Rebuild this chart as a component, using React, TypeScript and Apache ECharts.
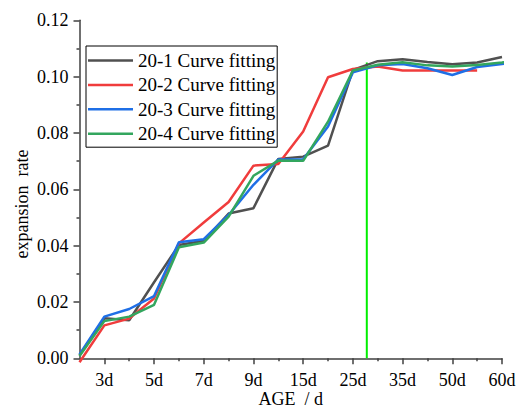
import React, { useEffect, useRef } from "react";
import * as echarts from "echarts";

// x positions are evenly spaced steps along the age axis (0..18)
const tickLabels = ["3d", "5d", "7d", "9d", "15d", "25d", "35d", "50d", "60d"];
const majorTickPos = [1, 3, 5, 7, 9, 11, 13, 15, 17];
const minorTickPos = [2, 4, 6, 8, 10, 12, 14, 16];

const s1Values = [0.001, 0.0142, 0.0135, 0.027, 0.0402, 0.0417, 0.0514, 0.0533, 0.0708, 0.0716, 0.0755, 0.1024, 0.1055, 0.1062, 0.1052, 0.1044, 0.105, 0.107];
const s2Values = [-0.0014, 0.0117, 0.0141, 0.0212, 0.0408, 0.0482, 0.0555, 0.0684, 0.069, 0.0805, 0.0998, 0.1027, 0.1036, 0.1022, 0.1022, 0.1022, 0.1022];
const s3Values = [0.0014, 0.0148, 0.0175, 0.0221, 0.0412, 0.0423, 0.0509, 0.0616, 0.0706, 0.0707, 0.0823, 0.1015, 0.104, 0.1045, 0.103, 0.1006, 0.1034, 0.1045, 0.105];
const s4Values = [0.0008, 0.0132, 0.0148, 0.019, 0.0394, 0.0411, 0.0503, 0.0648, 0.0702, 0.0701, 0.084, 0.1022, 0.1042, 0.1051, 0.104, 0.1036, 0.1041, 0.105, 0.1067];
const seriesNames = ["20-1 Curve fitting", "20-2 Curve fitting", "20-3 Curve fitting", "20-4 Curve fitting"];
const seriesColors = ["#505050", "#f03c3c", "#1f6fe6", "#33a65e"];
const markerX = 11.56;
const markerTop = 0.105;

const FONT = "'Liberation Serif', 'Times New Roman', serif";

export default function App() {
  const ref = useRef<HTMLDivElement>(null);
  useEffect(() => {
    if (!ref.current) return;
    const chart = echarts.init(ref.current, undefined, { renderer: "svg" });
    const all = [s1Values, s2Values, s3Values, s4Values];
    const axisColor = "#404040";
    const series: any[] = all.map((vals, k) => ({
      name: seriesNames[k],
      type: "line",
      data: vals.map((v, i) => [i, v]),
      symbol: "none",
      clip: false,
      xAxisIndex: 0,
      lineStyle: { color: seriesColors[k], width: 2.5 },
      itemStyle: { color: seriesColors[k] },
      z: 3 + k,
    }));
    series.push({
      name: "marker",
      type: "line",
      data: [[markerX, 0], [markerX, markerTop]],
      symbol: "none",
      lineStyle: { color: "#00ee00", width: 2 },
      z: 2,
    });
    chart.setOption({
      animation: false,
      backgroundColor: "#ffffff",
      grid: { left: 79.5, right: 15, top: 20.3, bottom: 50.7, containLabel: false, outerBoundsMode: "none" },
      legend: {
        data: seriesNames,
        left: 86,
        top: 46,
        orient: "vertical",
        padding: [5, 2, 4, 2],
        icon: "rect",
        itemWidth: 45,
        itemHeight: 2.5,
        itemGap: 5.4,
        borderColor: "#000",
        borderWidth: 1,
        backgroundColor: "#fff",
        textStyle: { fontFamily: FONT, fontSize: 19, color: "#000", lineHeight: 18 },
      },
      xAxis: [
        {
          type: "value",
          min: 0,
          max: 17,
          interval: 1,
          name: "AGE  / d",
          nameLocation: "middle",
          nameGap: 32,
          nameMoveOverlap: false,
          nameTextStyle: { fontFamily: FONT, fontSize: 18, color: "#000", lineHeight: 18 },
          axisLine: { lineStyle: { color: axisColor, width: 1.5 } },
          axisTick: { customValues: majorTickPos, length: 6, lineStyle: { color: axisColor, width: 1.5 } },
          axisLabel: {
            customValues: majorTickPos,
            formatter: (v: number) => tickLabels[majorTickPos.indexOf(Math.round(v))] ?? "",
            fontFamily: FONT,
            fontSize: 18,
            color: "#000",
            margin: 13,
          },
          splitLine: { show: false },
        },
        {
          type: "value",
          min: 0,
          max: 17,
          interval: 1,
          position: "bottom",
          axisLine: { show: false },
          axisTick: { customValues: minorTickPos, length: 3, lineStyle: { color: axisColor, width: 1.5 } },
          axisLabel: { show: false },
          splitLine: { show: false },
        },
      ],
      yAxis: {
        type: "value",
        min: 0,
        max: 0.12,
        interval: 0.02,
        axisLine: { show: true, lineStyle: { color: axisColor, width: 1.5 } },
        axisTick: { show: true, length: 6, lineStyle: { color: axisColor, width: 1.5 } },
        minorTick: { show: true, splitNumber: 2, length: 3, lineStyle: { color: axisColor, width: 1.5 } },
        axisLabel: {
          formatter: (v: number) => v.toFixed(2),
          fontFamily: FONT,
          fontSize: 18,
          color: "#000",
          margin: 11,
        },
        splitLine: { show: false },
      },
      graphic: [
        {
          type: "text",
          x: 21.5,
          y: 204,
          rotation: Math.PI / 2,
          style: {
            text: "expansion  rate",
            fontFamily: FONT,
            fontSize: 18,
            fill: "#000",
            align: "center",
            verticalAlign: "middle",
          },
        },
      ],
      series,
    });
    return () => chart.dispose();
  }, []);
  return <div ref={ref} style={{ width: 517, height: 409, position: "fixed", left: 0, top: 0 }} />;
}
